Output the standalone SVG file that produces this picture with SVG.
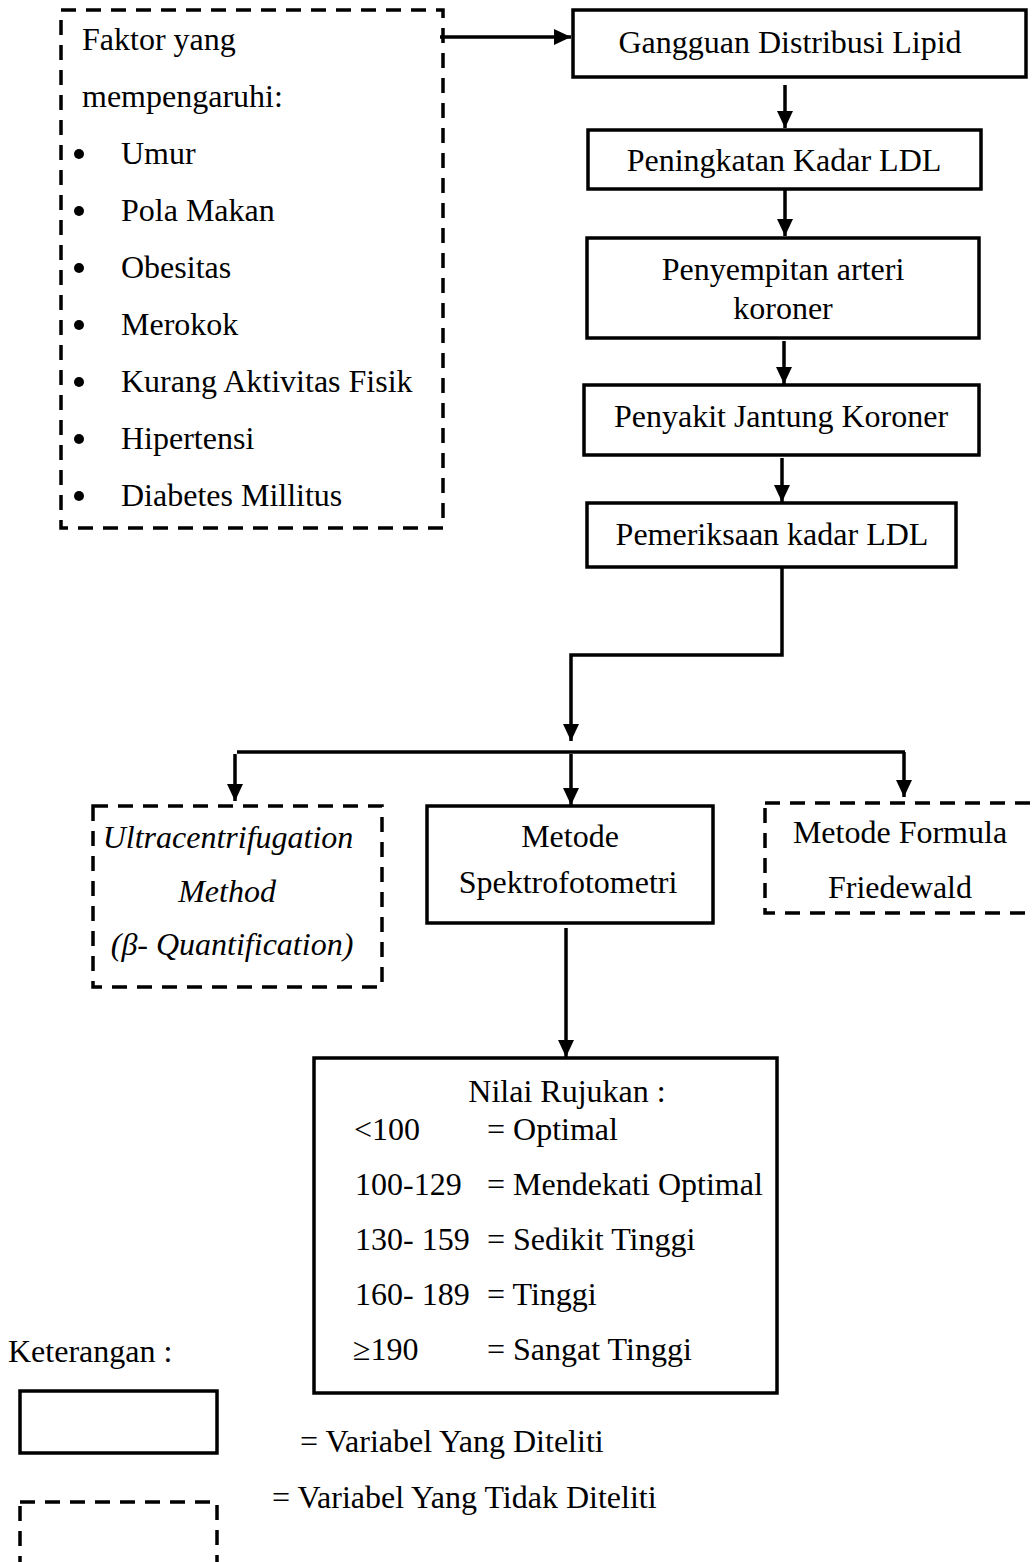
<svg xmlns="http://www.w3.org/2000/svg" width="1033" height="1562" viewBox="0 0 1033 1562">
<style>
text{font-family:"Liberation Serif","Times New Roman",serif;font-size:32px;fill:#000}
.solid{fill:#fff;stroke:#000;stroke-width:3.5}
.dash{fill:none;stroke:#000;stroke-width:3.5;stroke-dasharray:15 10}
.conn{fill:none;stroke:#000;stroke-width:3.5}
.c{text-anchor:middle}
.i{font-style:italic}
</style>
<defs>
<marker id="ah" markerUnits="userSpaceOnUse" markerWidth="17" markerHeight="16" refX="17" refY="8" orient="auto">
<path d="M0,0 L17,8 L0,16 z" fill="#000"/>
</marker>
</defs>
<rect width="1033" height="1562" fill="#fff"/>

<g id="connectors">
<path class="conn" d="M440,37 H571" marker-end="url(#ah)"/>
<path class="conn" d="M785,85 V128" marker-end="url(#ah)"/>
<path class="conn" d="M785,190 V236" marker-end="url(#ah)"/>
<path class="conn" d="M784,341 V384" marker-end="url(#ah)"/>
<path class="conn" d="M782,458 V502" marker-end="url(#ah)"/>
<path class="conn" d="M782,567 V655 H571 V741" marker-end="url(#ah)"/>
<path class="conn" d="M237,752 H905"/>
<path class="conn" d="M235,754 V801" marker-end="url(#ah)"/>
<path class="conn" d="M571,754 V805" marker-end="url(#ah)"/>
<path class="conn" d="M904,752 V797" marker-end="url(#ah)"/>
<path class="conn" d="M566,928 V1057" marker-end="url(#ah)"/>
</g>

<g id="faktor">
<rect class="dash" x="61" y="10" width="382" height="518"/>
<text x="82" y="50">Faktor yang</text>
<text x="82" y="107">mempengaruhi:</text>
<g>
<circle cx="79" cy="154" r="5"/><text x="121" y="164">Umur</text>
<circle cx="79" cy="211" r="5"/><text x="121" y="221">Pola Makan</text>
<circle cx="79" cy="268" r="5"/><text x="121" y="278">Obesitas</text>
<circle cx="79" cy="325" r="5"/><text x="121" y="335">Merokok</text>
<circle cx="79" cy="382" r="5"/><text x="121" y="392">Kurang Aktivitas Fisik</text>
<circle cx="79" cy="439" r="5"/><text x="121" y="449">Hipertensi</text>
<circle cx="79" cy="496" r="5"/><text x="121" y="506">Diabetes Millitus</text>
</g>
</g>

<g id="gangguan">
<rect class="solid" x="573" y="10" width="453" height="67"/>
<text class="c" x="790" y="53">Gangguan Distribusi Lipid</text>
</g>

<g id="peningkatan">
<rect class="solid" x="588" y="130" width="393" height="59"/>
<text class="c" x="784" y="171">Peningkatan Kadar LDL</text>
</g>

<g id="penyempitan">
<rect class="solid" x="587" y="238" width="392" height="100"/>
<text class="c" x="783" y="280">Penyempitan arteri</text>
<text class="c" x="783" y="319">koroner</text>
</g>

<g id="pjk">
<rect class="solid" x="584" y="385" width="395" height="70"/>
<text class="c" x="781" y="427">Penyakit Jantung Koroner</text>
</g>

<g id="pemeriksaan">
<rect class="solid" x="587" y="503" width="369" height="64"/>
<text class="c" x="772" y="545">Pemeriksaan kadar LDL</text>
</g>

<g id="ultracentrifugation">
<rect class="dash" x="93" y="806" width="289" height="181"/>
<text class="c i" x="228" y="848">Ultracentrifugation</text>
<text class="c i" x="227" y="902">Method</text>
<text class="c i" x="232" y="955">(β- Quantification)</text>
</g>

<g id="spektrofotometri">
<rect class="solid" x="427" y="806" width="286" height="117"/>
<text class="c" x="570" y="847">Metode</text>
<text class="c" x="568" y="893">Spektrofotometri</text>
</g>

<g id="friedewald">
<rect class="dash" x="765" y="803" width="300" height="110"/>
<text class="c" x="900" y="843">Metode Formula</text>
<text class="c" x="900" y="898">Friedewald</text>
</g>

<g id="nilai">
<rect class="solid" x="314" y="1058" width="463" height="335"/>
<text class="c" x="567" y="1102">Nilai Rujukan :</text>
<text x="354" y="1140">&lt;100</text><text x="487" y="1140">= Optimal</text>
<text x="355" y="1195">100-129</text><text x="487" y="1195">= Mendekati Optimal</text>
<text x="355" y="1250">130- 159</text><text x="487" y="1250">= Sedikit Tinggi</text>
<text x="355" y="1305">160- 189</text><text x="487" y="1305">= Tinggi</text>
<text x="353" y="1360">≥190</text><text x="487" y="1360">= Sangat Tinggi</text>
</g>

<g id="legend">
<text x="8" y="1362">Keterangan :</text>
<rect class="solid" x="20" y="1391" width="197" height="62"/>
<text x="300" y="1452">= Variabel Yang Diteliti</text>
<rect class="dash" x="20" y="1502" width="197" height="100"/>
<text x="272" y="1508">= Variabel Yang Tidak Diteliti</text>
</g>
</svg>
